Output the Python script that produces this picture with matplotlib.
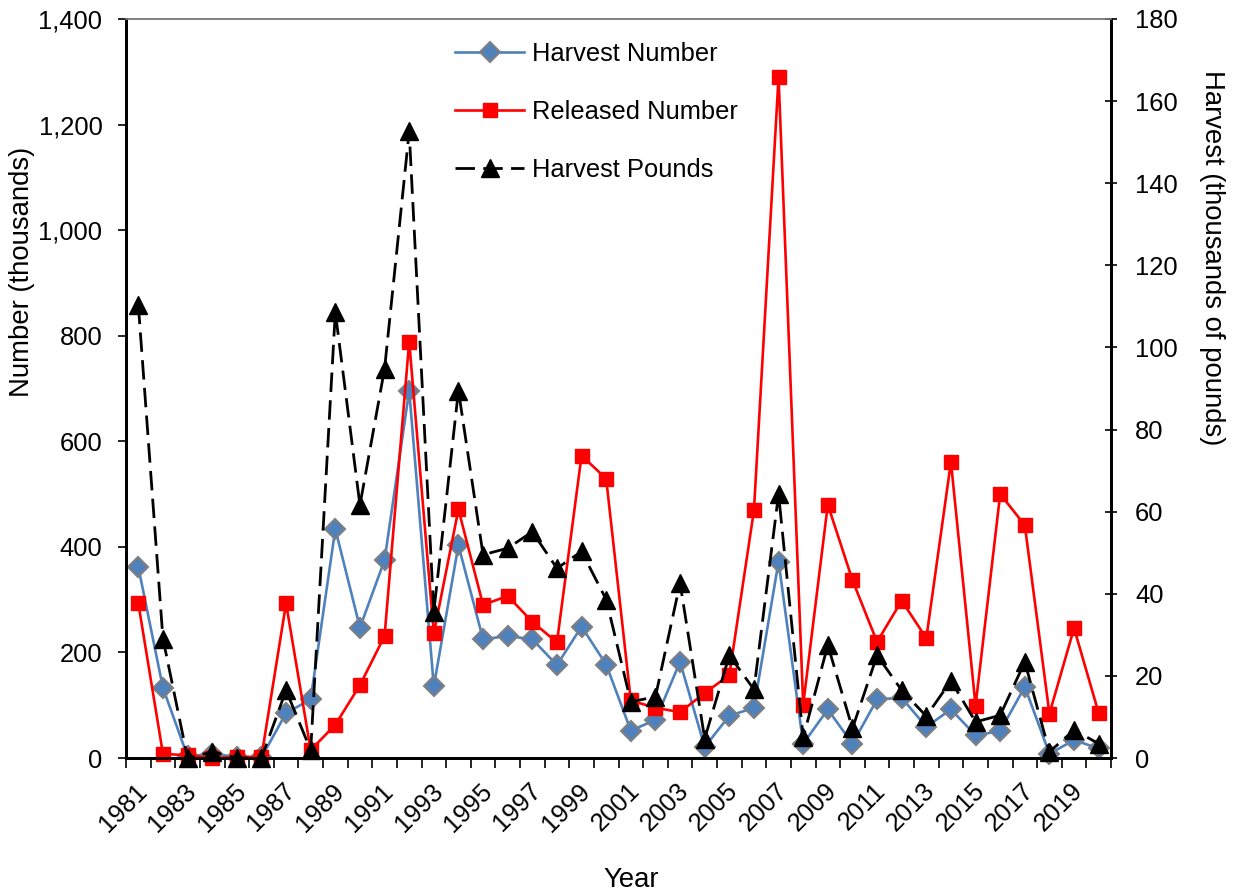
import matplotlib
matplotlib.use("Agg")
import matplotlib.pyplot as plt
from matplotlib.ticker import FuncFormatter, FixedLocator, MultipleLocator
import numpy as np

plt.rcParams['font.family'] = ['Liberation Sans', 'DejaVu Sans']

years = list(range(1981, 2021))
harvest_number = [362, 133, 3, 8, 2, 1, 85, 111, 434, 247,
                  375, 696, 136, 403, 225, 231, 225, 176, 249, 177,
                  52, 72, 182, 21, 80, 95, 372, 27, 92, 27,
                  111, 114, 59, 92, 43, 51, 135, 8, 34, 18]
released_number = [293, 8, 5, 0, 2, 2, 293, 15, 63, 138,
                   231, 789, 236, 471, 290, 307, 258, 219, 573, 529,
                   109, 95, 87, 123, 157, 469, 1290, 101, 480, 337,
                   220, 298, 227, 561, 99, 500, 441, 84, 246, 85]
harvest_pounds = [110.4, 29.1, 0, 1.5, 0, 0, 16.5, 1.9, 108.6, 61.6,
                  94.8, 152.6, 35.6, 89.5, 49.5, 51.1, 55.1, 46.2, 50.3, 38.6,
                  13.7, 14.9, 42.6, 4.7, 25.0, 16.7, 64.3, 5.0, 27.5, 7.2,
                  25.0, 16.5, 10.2, 18.8, 8.8, 10.4, 23.4, 1.5, 6.8, 3.5]
label_years = list(range(1981, 2020, 2))

FS = 18.4
LFS = 19.8
fig = plt.figure(figsize=(12.39, 8.96), dpi=100)
ax1 = fig.add_axes([126/1239, 1-758/896, (1111-126)/1239, (758-19)/896])
ax2 = ax1.twinx()

l1, = ax1.plot(years, harvest_number, color='#4f81bd', lw=1.9, marker='D', ms=10.5,
               markerfacecolor='#4f81bd', markeredgecolor='#7f7f7f', markeredgewidth=1.5,
               clip_on=False, label='Harvest Number', zorder=3)
l2, = ax1.plot(years, released_number, color='#ff0000', lw=1.9, marker='s', ms=10.5,
               markerfacecolor='#ff0000', markeredgecolor='#ff0000',
               clip_on=False, label='Released Number', zorder=4)
l3, = ax2.plot(years, harvest_pounds, color='black', lw=2.0, ls=(0, (7, 3)), marker='^', ms=13.5,
               markerfacecolor='black', markeredgecolor='black',
               clip_on=False, label='Harvest Pounds', zorder=5)

ax1.set_xlim(1980.5, 2020.5)
ax1.set_ylim(0, 1400)
ax2.set_ylim(0, 180)

ax1.yaxis.set_major_locator(MultipleLocator(200))
ax1.yaxis.set_major_formatter(FuncFormatter(lambda v, p: f"{int(v):,}"))
ax2.yaxis.set_major_locator(MultipleLocator(20))

# labels sit slightly right of category centre, as in the original
label_shift = 0.55
ax1.xaxis.set_major_locator(FixedLocator([y + label_shift for y in label_years]))
ax1.set_xticklabels([str(y) for y in label_years], rotation=45, ha='right', va='top',
                    fontsize=FS)
ax1.xaxis.set_minor_locator(FixedLocator([y - 0.5 for y in range(1981, 2022)]))
ax1.tick_params(axis='x', which='major', length=0, pad=15)
ax1.tick_params(axis='x', which='minor', length=7, width=1.2, direction='out', color='black')
ax1.tick_params(axis='y', which='major', length=6, width=1.2, direction='out', pad=11, labelsize=FS)
ax2.tick_params(axis='y', which='major', length=8.6, width=1.2, direction='inout', pad=13, labelsize=FS)

for ax in (ax1, ax2):
    for s in ('left', 'right', 'bottom'):
        ax.spines[s].set_linewidth(2.0)
        ax.spines[s].set_color('black')
    ax.spines['top'].set_color('#808080')
    ax.spines['top'].set_linewidth(1.2)

fig.text(22/1239, 1-272/896, 'Number (thousands)', rotation=90, ha='center', va='center', fontsize=LFS)
fig.text(1212/1239, 1-258/896, 'Harvest (thousands of pounds)', rotation=270, ha='center', va='center', fontsize=LFS)
fig.text(631/1239, 1-880/896, 'Year', ha='center', va='center', fontsize=LFS)

leg = ax2.legend(handles=[l1, l2, l3], loc='upper left',
                 bbox_to_anchor=(455/1239, 1-42/896), bbox_transform=fig.transFigure,
                 frameon=False, fontsize=FS, handlelength=2.7, handletextpad=0.3,
                 labelspacing=1.33, borderpad=0, borderaxespad=0)

fig.savefig('out.png', dpi=100)
